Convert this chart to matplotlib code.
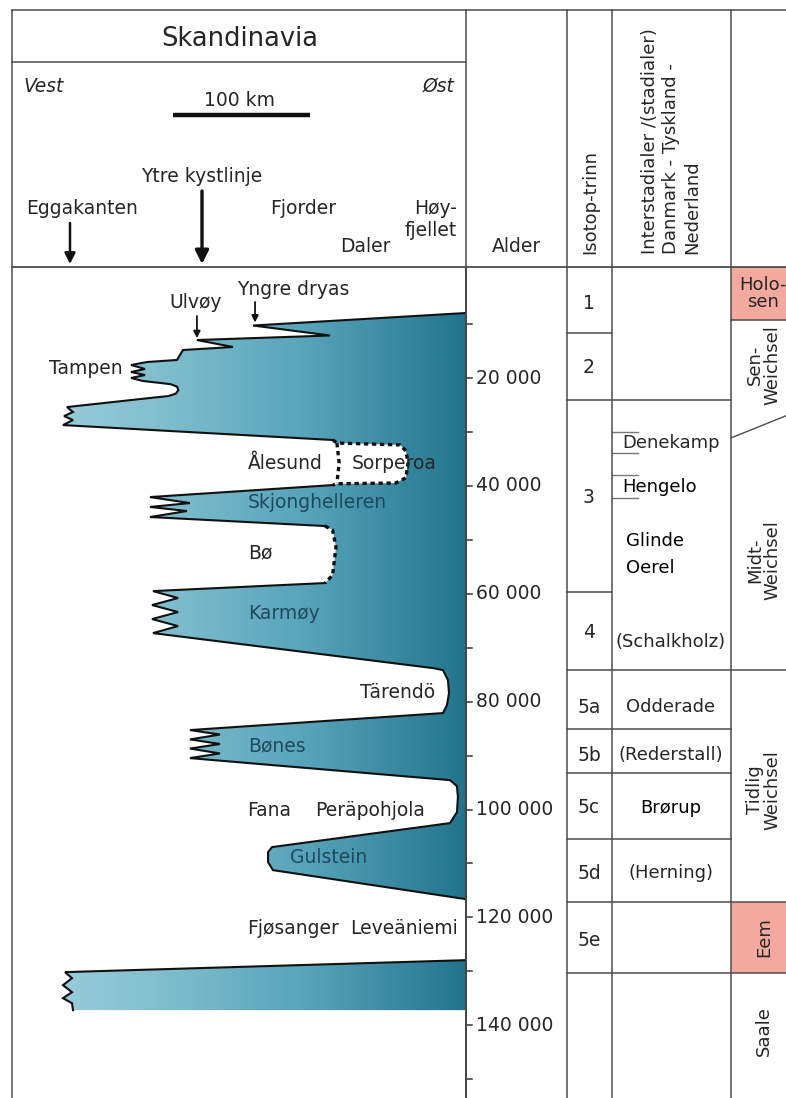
import numpy as np
import matplotlib
matplotlib.use("Agg")
import matplotlib.pyplot as plt
from matplotlib.path import Path
from matplotlib.patches import PathPatch, Rectangle
from matplotlib.colors import LinearSegmentedColormap
import matplotlib.transforms as mtrans

plt.rcParams['font.family'] = ['DejaVu Sans']

# ---------------- data ----------------
# Ice-sheet western margin (distance in km from the western panel edge, age in ka)
main_km = [331.4, 176.0, 232.1, 135.0, 161.3, 124.8, 120.4, 98.5, 86.9, 97.1, 86.9, 97.1,
           86.9, 95.6, 108.0, 116.0, 120.5, 121.4, 119.5, 114.0, 106.0, 40.1, 44.5, 38.0,
           44.5, 37.2, 234.3, 237.2, 283.2, 287.5, 289.1, 287.5, 280.0, 237.2, 234.3,
           100.7, 129.9, 100.7, 127.7, 100.7, 228.5, 234.0, 236.5, 234.0, 228.5, 102.9,
           121.2, 102.2, 121.2, 102.2, 121.2, 102.9, 307.3, 314.6, 318.2, 319.0, 317.5,
           314.6, 129.9, 151.8, 129.9, 151.8, 129.9, 151.8, 129.9, 319.7, 324.8, 325.5,
           324.8, 319.7, 189.8, 186.9, 186.9, 190.5, 331.4]
main_ka = [7.94, 10.26, 12.11, 12.95, 14.24, 14.80, 16.65, 17.03, 17.58, 18.32, 18.88, 19.44,
           19.99, 20.55, 20.90, 21.15, 21.60, 22.25, 22.90, 23.35, 23.55, 25.38, 26.30, 27.05,
           27.79, 28.72, 31.49, 32.05, 32.40, 33.50, 35.76, 38.50, 39.47, 39.60, 39.84,
           42.07, 43.18, 43.90, 44.66, 45.77, 47.44, 48.18, 51.34, 56.53, 58.01, 59.50,
           60.79, 62.09, 63.39, 64.69, 65.99, 67.29, 73.78, 74.15, 76.00, 78.41, 80.64,
           82.12, 85.27, 86.10, 87.00, 87.85, 88.70, 89.60, 90.47, 94.55, 95.66, 97.70,
           100.48, 102.52, 106.97, 107.90, 109.75, 111.24, 116.62]
# line style of each margin segment: s = solid, d = dotted (uncertain)
main_seg = "s" * 26 + "d" * 8 + "s" * 6 + "d" * 4 + "s" * 30

saale_km = [331.4, 38.7, 43.8, 37.2, 43.8, 37.2, 43.8, 44.5, 331.4]
saale_ka = [127.93, 130.15, 131.27, 132.57, 133.87, 134.98, 135.91, 137.2, 137.2]

sep_km = [237.2, 238.8, 237.2]          # Ålesund / Sorperoa dotted divider
sep_ka = [32.05, 35.76, 39.47]

# place names (km, ka)
ice_names = ["Yngre dryas", "Ulvøy", "Tampen", "Ålesund", "Sorperoa", "Skjonghelleren", "Bø",
             "Karmøy", "Tärendö", "Bønes", "Fana", "Peräpohjola", "Gulstein", "Fjøsanger",
             "Leveäniemi"]
ice_name_km = [205.0, 134.0, 80.5, 172.3, 248.2, 172.3, 172.3, 172.3, 309.0, 172.3, 171.5,
               221.2, 202.9, 171.5, 246.7]
ice_name_ka = [3.67, 6.08, 18.32, 35.76, 35.76, 43.0, 52.45, 63.57, 78.22, 88.24, 100.1,
               100.1, 108.83, 121.99, 121.99]
ice_name_on_ice = [False, False, False, False, False, True, False, True, False, True, False,
                   False, True, False, False]
ice_name_ha = ["center", "center", "right", "left", "left", "left", "left", "left", "right",
               "left", "left", "left", "left", "left", "left"]
event_arrow_km = [177.4, 135.0]
event_arrow_ka = [(5.9, 9.7), (8.5, 12.6)]

# age axis
age_ticks = np.arange(10, 151, 10)
age_labels = [20, 40, 60, 80, 100, 120, 140]

# isotope stages
stage_labels = ["1", "2", "3", "4", "5a", "5b", "5c", "5d", "5e"]
stage_label_ka = [6.1, 18.1, 42.1, 67.1, 81.0, 89.9, 99.7, 111.8, 124.2]
stage_bounds_iso_only = [11.6, 59.7]
stage_bounds_iso_inter = [24.07, 85.1, 93.25, 105.5]
stage_bounds_all = [74.15, 117.2, 130.4]

# interstadials / stadials
inter_names = ["Denekamp", "Hengelo", "Glinde", "Oerel", "(Schalkholz)", "Odderade",
               "(Rederstall)", "Brørup", "(Herning)"]
inter_ka = [32.0, 40.2, 50.2, 55.2, 68.9, 81.0, 89.9, 99.7, 111.8]
inter_ha = ["left", "left", "left", "left", "center", "center", "center", "center", "center"]
inter_strong = [False, True, True, True, False, False, False, True, False]
inter_marks = [30.0, 33.9, 37.98, 42.3]

# chronostratigraphy
holocene_end = 9.24
sen_midt_line = (31.1, 27.0)
eem_span = (117.2, 130.4)
epoch_names = ["Sen-\nWeichsel", "Midt-\nWeichsel", "Tidlig\nWeichsel", "Eem", "Saale"]
epoch_ka = [17.6, 53.7, 96.4, 123.7, 141.0]

# ---------------- layout ----------------
W, H = 786, 1098
HEAD = 267
AGE_TOP, AGE_BOT = -0.59, 153.49
X_LEFT, X_ALDER, X_ISO, X_INT, X_EPO = 12, 466, 567, 612, 731
LINE = "#4d4d4d"
TXT = "#262626"
FS = 13.5

fig = plt.figure(figsize=(W / 100, H / 100), dpi=100)
body_h = (H - HEAD) / H

ax_body = fig.add_axes([0, 0, 1, body_h])
ax_body.set_xlim(0, W)
ax_body.set_ylim(AGE_BOT, AGE_TOP)
ax_body.axis("off")

ax_ice = fig.add_axes([X_LEFT / W, 0, (X_ALDER - X_LEFT) / W, body_h])
ax_ice.set_xlim(0, 331.4)
ax_ice.set_ylim(AGE_BOT, AGE_TOP)
ax_ice.axis("off")

ax_px = fig.add_axes([0, 0, 1, 1])
ax_px.set_xlim(0, W)
ax_px.set_ylim(H, 0)
ax_px.axis("off")
ax_px.set_zorder(3)
ax_ice.set_zorder(1)
ax_body.set_zorder(2)

# ---------------- ice sheet ----------------
cmap = LinearSegmentedColormap.from_list("ice", ["#a4d3df", "#80bece", "#55a2b8", "#22748d"],
                                         N=256)
main_path = Path(np.column_stack([main_km, main_ka]), closed=False)
saale_path = Path(np.column_stack([saale_km, saale_ka]), closed=False)
clip = PathPatch(Path.make_compound_path(main_path, saale_path), facecolor="none",
                 edgecolor="none", transform=ax_ice.transData)
ax_ice.add_patch(clip)
grad = np.linspace(0, 1, 512)[None, :]
im = ax_ice.imshow(grad, extent=[0, 331.4, AGE_BOT, AGE_TOP], cmap=cmap, aspect="auto",
                   interpolation="bilinear", zorder=1)
im.set_clip_path(clip)

def draw_margin(km, ka, styles):
    i = 0
    n = len(styles)
    while i < n:
        j = i
        while j < n and styles[j] == styles[i]:
            j += 1
        xs = km[i:j + 1]
        ys = ka[i:j + 1]
        if styles[i] == "s":
            ax_ice.plot(xs, ys, color="#111111", lw=1.5, solid_joinstyle="miter", zorder=3)
        else:
            ax_ice.plot(xs, ys, color="#111111", lw=2.4, linestyle=(0, (1.3, 1.1)), zorder=3)
        i = j

draw_margin(main_km, main_ka, main_seg)
draw_margin(saale_km, saale_ka, "s" * (len(saale_km) - 2))
ax_ice.plot(sep_km, sep_ka, color="#111111", lw=2.4, linestyle=(0, (1.3, 1.1)), zorder=3)

for name, x, y, on_ice, ha in zip(ice_names, ice_name_km, ice_name_ka, ice_name_on_ice, ice_name_ha):
    ax_ice.text(x, y, name, ha=ha, va="center", fontsize=FS,
                color="#1d4a5c" if on_ice else TXT, zorder=4)
for x, (y0, y1) in zip(event_arrow_km, event_arrow_ka):
    ax_ice.annotate("", xy=(x, y1), xytext=(x, y0),
                    arrowprops=dict(arrowstyle="-|>", color="#111111", lw=1.3,
                                    mutation_scale=10, shrinkA=0, shrinkB=0), zorder=4)

# ---------------- table body ----------------
ax_body.plot([X_ALDER, X_ALDER], [AGE_TOP, AGE_BOT], color="#222222", lw=1.3, zorder=5)
for t in age_ticks:
    ax_body.plot([X_ALDER, X_ALDER + 6], [t, t], color="#333333", lw=1.1)
for a in age_labels:
    ax_body.text(X_ALDER + 10, a, f"{a * 1000:,}".replace(",", " "), ha="left", va="center",
                 fontsize=FS, color=TXT)

for b in stage_bounds_iso_only:
    ax_body.plot([X_ISO, X_INT], [b, b], color=LINE, lw=1.1)
for b in stage_bounds_iso_inter:
    ax_body.plot([X_ISO, X_EPO], [b, b], color=LINE, lw=1.1)
for b in stage_bounds_all:
    ax_body.plot([X_ISO, W], [b, b], color=LINE, lw=1.1)
for lab, y in zip(stage_labels, stage_label_ka):
    ax_body.text(589, y, lab, ha="center", va="center", fontsize=FS, color=TXT)

for name, y, ha, strong in zip(inter_names, inter_ka, inter_ha, inter_strong):
    x = 622 if ha == "left" else 671
    if name in ("Glinde", "Oerel"):
        x = 626
    ax_body.text(x, y, name, ha=ha, va="center", fontsize=13,
                 color="#000000" if strong else TXT)
for m in inter_marks:
    ax_body.plot([X_INT, 638], [m, m], color="#777777", lw=1.0)

# chronostratigraphy column
ax_body.add_patch(Rectangle((X_EPO, AGE_TOP), W - X_EPO, holocene_end - AGE_TOP,
                            facecolor="#f3a99e", edgecolor="none", zorder=0))
ax_body.add_patch(Rectangle((X_EPO, eem_span[0]), W - X_EPO, eem_span[1] - eem_span[0],
                            facecolor="#f3a99e", edgecolor="none", zorder=0))
ax_body.plot([X_EPO, W], [holocene_end, holocene_end], color=LINE, lw=1.1)
ax_body.plot([X_EPO, W], list(sen_midt_line), color=LINE, lw=1.0)
ax_body.text(763, 4.3, "Holo-\nsen", ha="center", va="center", fontsize=13, color=TXT,
             linespacing=0.95)
for name, y in zip(epoch_names, epoch_ka):
    ax_body.text(764, y, name, ha="center", va="center", rotation=90, fontsize=13,
                 color=TXT, multialignment="center", linespacing=0.95)

# ---------------- frame & header ----------------
for x in (X_LEFT, X_ALDER, X_ISO, X_INT, X_EPO):
    ax_px.plot([x, x], [10, H], color=LINE, lw=1.1)
ax_px.plot([X_LEFT, W], [10, 10], color=LINE, lw=1.1)
ax_px.plot([X_LEFT, X_ALDER], [62, 62], color=LINE, lw=1.1)
ax_px.plot([X_LEFT, W], [HEAD, HEAD], color=LINE, lw=1.3)

ax_px.text(240, 39, "Skandinavia", ha="center", va="center", fontsize=18.5, color=TXT)
ax_px.text(24, 86, "Vest", ha="left", va="center", fontsize=FS, style="italic", color=TXT)
ax_px.text(455, 86, "Øst", ha="right", va="center", fontsize=FS, style="italic", color=TXT)
ax_px.text(240, 101, "100 km", ha="center", va="center", fontsize=FS, color=TXT)
blend = mtrans.blended_transform_factory(ax_ice.transData, ax_px.transData)
scale_start_km, scale_len_km = 117.5, 100
ax_px.plot([scale_start_km, scale_start_km + scale_len_km], [115, 115], transform=blend,
           color="#111111", lw=3.2, solid_capstyle="butt")
ax_px.text(202, 176, "Ytre kystlinje", ha="center", va="center", fontsize=FS, color=TXT)
ax_px.annotate("", xy=(202, 264), xytext=(202, 191),
               arrowprops=dict(arrowstyle="-|>", color="#111111", lw=2.4, mutation_scale=20,
                               shrinkA=0, shrinkB=0))
ax_px.text(82, 209, "Eggakanten", ha="center", va="center", fontsize=FS, color=TXT)
ax_px.annotate("", xy=(70, 264), xytext=(70, 223),
               arrowprops=dict(arrowstyle="-|>", color="#111111", lw=1.8, mutation_scale=16,
                               shrinkA=0, shrinkB=0))
ax_px.text(303, 208, "Fjorder", ha="center", va="center", fontsize=FS, color=TXT)
ax_px.text(457, 208, "Høy-", ha="right", va="center", fontsize=FS, color=TXT)
ax_px.text(457, 231, "fjellet", ha="right", va="center", fontsize=FS, color=TXT)
ax_px.text(365, 247, "Daler", ha="center", va="center", fontsize=FS, color=TXT)
ax_px.text(516, 246, "Alder", ha="center", va="center", fontsize=FS, color=TXT)
ax_px.text(590, 254, "Isotop-trinn", ha="center", va="bottom", rotation=90, fontsize=13,
           color=TXT)
ax_px.text(671, 254, "Interstadialer /(stadialer)\nDanmark - Tyskland -\nNederland",
           ha="center", va="bottom", rotation=90, fontsize=13, color=TXT,
           multialignment="left", linespacing=1.2)

fig.savefig("out.png", dpi=100, facecolor="white")
